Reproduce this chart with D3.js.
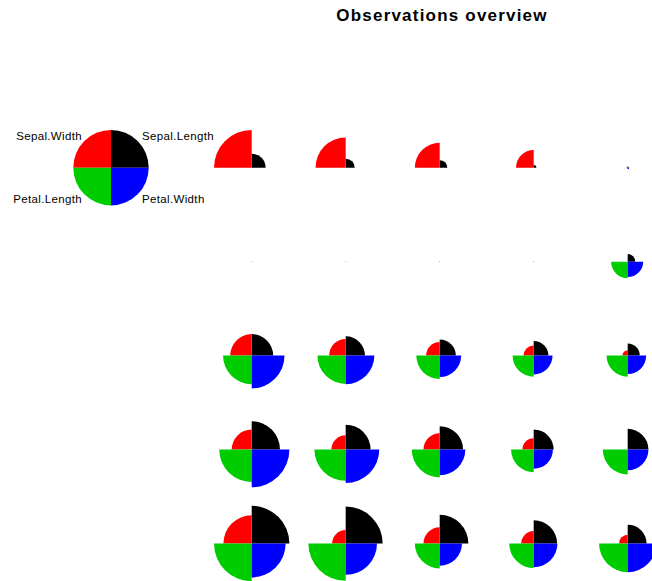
<!DOCTYPE html>
<html>
<head>
<meta charset="utf-8">
<script src="https://cdn.jsdelivr.net/npm/d3@7"></script>
<style>
  html, body { margin: 0; padding: 0; background: #fff; }
  svg { display: block; }
  text { font-family: "Liberation Sans", Arial, Helvetica, sans-serif; }
</style>
</head>
<body>
<svg id="chart" width="652" height="581"></svg>
<script>
// Variables, in segment order (counter-clockwise from east)
const variables = ["Sepal.Length", "Sepal.Width", "Petal.Length", "Petal.Width"];
const segmentColors = ["#000000", "#FF0000", "#00CD00", "#0000FF"];

// Scaled (0..1) values for the 25 observations, row by row
const sepalLength = [0.37, 0.24, 0.20, 0.07, 0.03,
                     0.01, 0.01, 0.01, 0.01, 0.20,
                     0.57, 0.51, 0.43, 0.39, 0.32,
                     0.75, 0.66, 0.62, 0.53, 0.55,
                     1.00, 0.98, 0.76, 0.62, 0.50];
const sepalWidth  = [1.00, 0.80, 0.66, 0.47, 0.03,
                     0.01, 0.01, 0.01, 0.01, 0.00,
                     0.57, 0.44, 0.36, 0.27, 0.14,
                     0.53, 0.38, 0.43, 0.30, 0.00,
                     0.75, 0.36, 0.43, 0.33, 0.23];
const petalLength = [0.00, 0.00, 0.00, 0.00, 0.03,
                     0.01, 0.01, 0.01, 0.01, 0.44,
                     0.76, 0.75, 0.62, 0.56, 0.56,
                     0.86, 0.83, 0.74, 0.60, 0.66,
                     1.00, 0.99, 0.66, 0.65, 0.76];
const petalWidth  = [0.01, 0.00, 0.00, 0.00, 0.04,
                     0.01, 0.01, 0.01, 0.01, 0.41,
                     0.87, 0.76, 0.57, 0.50, 0.49,
                     1.00, 0.89, 0.68, 0.51, 0.55,
                     0.90, 0.83, 0.59, 0.63, 0.76];
const keyValues = [1, 1, 1, 1];

const nCols = 5, nRows = 5;
const series = [sepalLength, sepalWidth, petalLength, petalWidth];
const observations = d3.range(sepalLength.length).map(i => series.map(s => s[i]));

const svg = d3.select("#chart");

// Grid placement of the stars
const xPos = d3.scaleLinear().domain([0, nCols - 1]).range([251.7, 627.7]);
const yPos = d3.scaleLinear().domain([0, nRows - 1]).range([167.7, 543.5]);
const radius = d3.scaleLinear().domain([0, 1]).range([0, 37.7]);

// d3.arc angles: 0 = north, clockwise. Segment k spans east->north rotated by k quarters CCW.
const segAngles = [
  [0, Math.PI / 2],                 // upper right
  [-Math.PI / 2, 0],                // upper left
  [Math.PI, 3 * Math.PI / 2],       // lower left
  [Math.PI / 2, Math.PI]            // lower right
];
const arc = d3.arc().innerRadius(0);

function drawStar(g, values) {
  g.selectAll("path")
    .data(values)
    .join("path")
    .attr("d", (v, k) => arc({ outerRadius: radius(v), startAngle: segAngles[k][0], endAngle: segAngles[k][1] }))
    .attr("fill", (v, k) => segmentColors[k]);
}

observations.forEach((vals, i) => {
  const g = svg.append("g")
    .attr("transform", `translate(${xPos(i % nCols)},${yPos(Math.floor(i / nCols))})`);
  drawStar(g, vals);
});

// Key
const keyX = 111, keyY = 167.7;
const key = svg.append("g").attr("transform", `translate(${keyX},${keyY})`);
drawStar(key, keyValues);
const keyLabels = [
  { dx: 31, dy: -28, anchor: "start" },
  { dx: -29, dy: -28, anchor: "end" },
  { dx: -29, dy: 35, anchor: "end" },
  { dx: 31, dy: 35, anchor: "start" }
];
key.selectAll("text")
  .data(variables)
  .join("text")
  .attr("x", (d, k) => keyLabels[k].dx)
  .attr("y", (d, k) => keyLabels[k].dy)
  .attr("text-anchor", (d, k) => keyLabels[k].anchor)
  .attr("font-size", 11.5)
  .attr("letter-spacing", 0.35)
  .attr("fill", "#000")
  .text(d => d);

// Title
svg.append("text")
  .attr("x", 442)
  .attr("y", 21)
  .attr("text-anchor", "middle")
  .attr("font-size", 17)
  .attr("font-weight", "bold")
  .attr("letter-spacing", 1.2)
  .text("Observations overview");
</script>
</body>
</html>
